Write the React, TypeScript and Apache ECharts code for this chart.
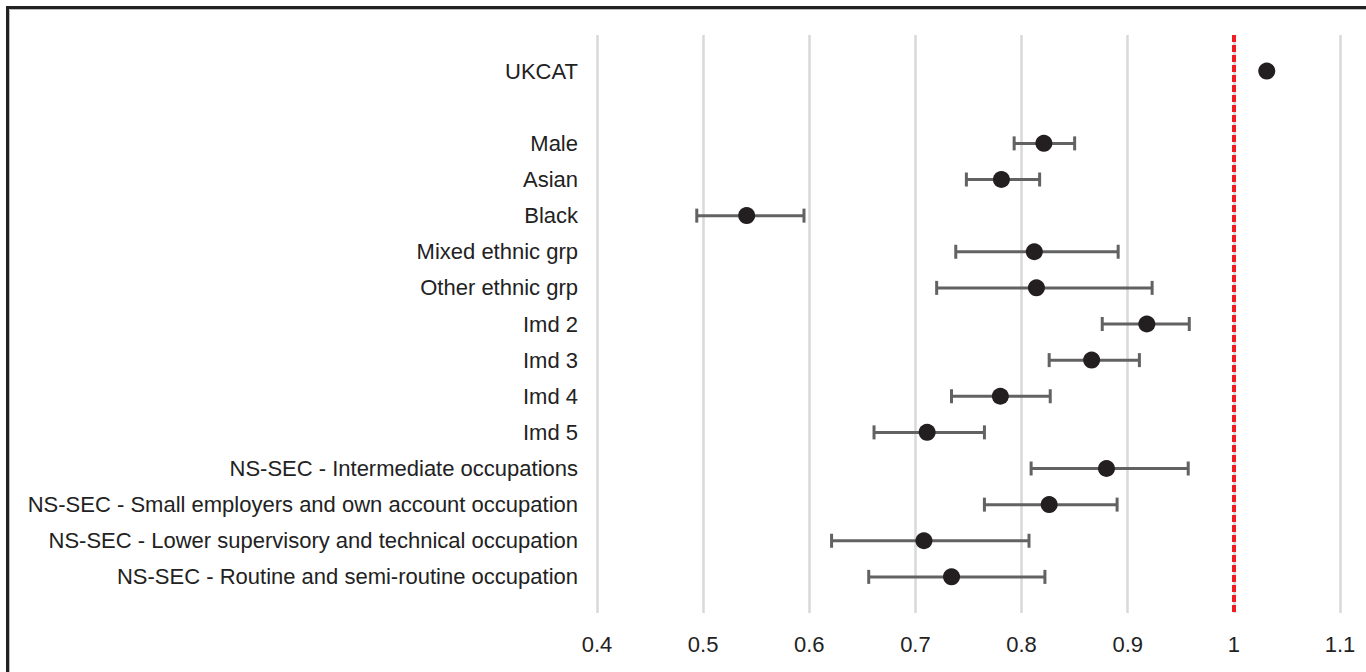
import React, { useEffect, useRef } from "react";
import * as echarts from "echarts";

const categories = [
  "UKCAT",
  "",
  "Male",
  "Asian",
  "Black",
  "Mixed ethnic grp",
  "Other ethnic grp",
  "Imd 2",
  "Imd 3",
  "Imd 4",
  "Imd 5",
  "NS-SEC - Intermediate occupations",
  "NS-SEC - Small employers and own account occupation",
  "NS-SEC - Lower supervisory and technical occupation",
  "NS-SEC - Routine and semi-routine occupation",
];
const estimates = [1.031, null, 0.821, 0.781, 0.541, 0.812, 0.814, 0.918, 0.866, 0.78, 0.711, 0.88, 0.826, 0.708, 0.734];
const lowerCI = [null, null, 0.793, 0.748, 0.494, 0.738, 0.72, 0.876, 0.826, 0.734, 0.661, 0.809, 0.765, 0.621, 0.656];
const upperCI = [null, null, 0.85, 0.817, 0.595, 0.891, 0.923, 0.958, 0.911, 0.827, 0.765, 0.957, 0.89, 0.807, 0.822];
const xTicks = [0.4, 0.5, 0.6, 0.7, 0.8, 0.9, 1, 1.1];
const referenceValue = 1;

const FONT = "'Liberation Sans', Arial, Helvetica, sans-serif";

export default function App() {
  const ref = useRef<HTMLDivElement>(null);
  useEffect(() => {
    if (!ref.current) return;
    const chart = echarts.init(ref.current, undefined, { renderer: "svg" });
    const pointData: any[] = [];
    const barData: any[] = [];
    categories.forEach((_, i) => {
      if (estimates[i] != null) pointData.push([estimates[i], i]);
      if (lowerCI[i] != null && upperCI[i] != null) barData.push([lowerCI[i], upperCI[i], i]);
    });
    chart.setOption({
      animation: false,
      backgroundColor: "#ffffff",
      graphic: [
        {
          type: "rect",
          shape: { x: 7.5, y: 7.5, width: 1400, height: 700 },
          style: { fill: "none", stroke: "#222222", lineWidth: 3 },
          silent: true,
        },
        {
          type: "rect",
          shape: { x: 9.5, y: 9.5, width: 1400, height: 700 },
          style: { fill: "none", stroke: "#bbbbbb", lineWidth: 1 },
          silent: true,
        },
      ],
      grid: { left: 597, right: 26, top: 35, bottom: 59 },
      xAxis: {
        type: "value",
        min: xTicks[0],
        max: xTicks[xTicks.length - 1],
        interval: 0.1,
        axisLine: { show: false },
        axisTick: { show: false },
        splitLine: { show: true, lineStyle: { color: "#d9d9d9", width: 2.5 } },
        axisLabel: {
          margin: 20,
          fontSize: 22,
          color: "#222222",
          fontFamily: FONT,
          formatter: (v: number) => String(Math.round(v * 10) / 10),
        },
      },
      yAxis: {
        type: "value",
        min: -1,
        max: 15,
        interval: 1,
        inverse: true,
        axisLine: { show: false },
        axisTick: { show: false },
        splitLine: { show: false },
        axisLabel: {
          margin: 19,
          fontSize: 22,
          color: "#222222",
          fontFamily: FONT,
          padding: [4, 0, 0, 0],
          formatter: (v: number) => (v >= 0 && v < categories.length ? categories[v] : ""),
        },
      },
      series: [
        {
          type: "custom",
          z: 2,
          data: barData,
          renderItem: (params: any, api: any) => {
            const lo = api.coord([api.value(0), api.value(2)]);
            const hi = api.coord([api.value(1), api.value(2)]);
            const cap = 7;
            const style = { stroke: "#626262", lineWidth: 3, fill: "none" };
            return {
              type: "group",
              children: [
                { type: "line", shape: { x1: lo[0], y1: lo[1], x2: hi[0], y2: hi[1] }, style },
                { type: "line", shape: { x1: lo[0], y1: lo[1] - cap, x2: lo[0], y2: lo[1] + cap }, style },
                { type: "line", shape: { x1: hi[0], y1: hi[1] - cap, x2: hi[0], y2: hi[1] + cap }, style },
              ],
            };
          },
        },
        {
          type: "scatter",
          z: 3,
          symbol: "circle",
          symbolSize: 17,
          itemStyle: { color: "#231f20", opacity: 1 },
          data: pointData,
          markLine: {
            silent: true,
            symbol: "none",
            label: { show: false },
            lineStyle: { color: "#f01e23", width: 4, type: [7, 3] },
            data: [{ xAxis: referenceValue }],
          },
        },
      ],
    });
    return () => chart.dispose();
  }, []);
  return (
    <div
      ref={ref}
      style={{ position: "absolute", left: 0, top: 0, width: 1366, height: 672 }}
    />
  );
}
